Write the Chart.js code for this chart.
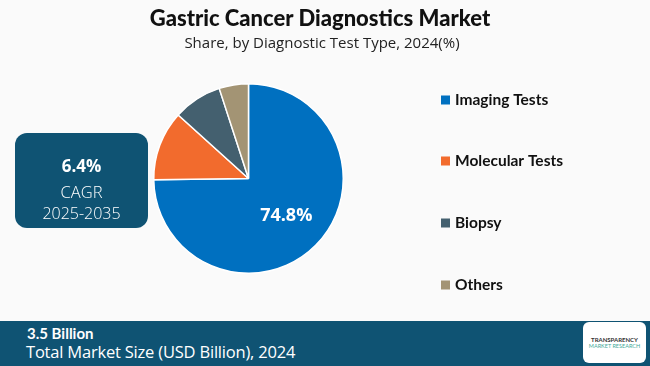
<!DOCTYPE html>
<html>
<head>
<meta charset="utf-8">
<script src="https://cdn.jsdelivr.net/npm/chart.js@4/dist/chart.umd.min.js"></script>
<style>
  html,body{margin:0;padding:0;background:#fafafa;}
  #wrap{position:relative;width:650px;height:366px;overflow:hidden;background:#fafafa;font-family:Lato, "Open Sans", sans-serif;}
  canvas{position:absolute;left:0;top:0;}
  .title{position:absolute;left:0;width:640px;text-align:center;top:4px;font:900 22px Lato, sans-serif;color:#111;}
  .sub{position:absolute;left:0;width:644px;text-align:center;top:32px;font:15px "Open Sans", sans-serif;color:#222;}
  .box{position:absolute;left:15px;top:133px;width:133px;height:95px;background:#0f5373;border-radius:12px;color:#fff;text-align:center;}
  .box .v{position:absolute;left:0;width:100%;top:21px;font:bold 17px "Open Sans", sans-serif;}
  .box .c{position:absolute;left:0;width:100%;top:47px;font:300 16.5px "Open Sans", sans-serif;}
  .box .y{position:absolute;left:0;width:100%;top:69px;font:300 16px "Open Sans", sans-serif;}
  .foot{position:absolute;left:0;top:321px;width:650px;height:45px;background:#0f5373;color:#fff;}
  .foot .a{position:absolute;left:27px;top:3px;font:bold 15px Lato, sans-serif;}
  .foot .b{position:absolute;left:26px;top:19px;font:16.5px "Open Sans", sans-serif;letter-spacing:-0.2px;}
  .logo{position:absolute;left:583px;top:322px;width:63px;height:41px;background:#fff;border-radius:6px;}
  .logo .t1{position:absolute;left:0;width:100%;top:14px;text-align:center;font:bold 6px Lato, sans-serif;color:#333;}
  .logo .t2{position:absolute;left:0;width:100%;top:21px;text-align:center;font:5.5px Lato, sans-serif;color:#4a9;}
</style>
</head>
<body>
<div id="wrap">
  <canvas id="c" width="650" height="366"></canvas>
  <div class="title">Gastric Cancer Diagnostics Market</div>
  <div class="sub">Share, by Diagnostic Test Type, 2024(%)</div>
  <div class="box"><div class="v">6.4%</div><div class="c">CAGR</div><div class="y">2025-2035</div></div>
  <div class="foot"><div class="a">3.5 Billion</div><div class="b">Total Market Size (USD Billion), 2024</div></div>
  <div class="logo"><div class="t1">TRANSPARENCY</div><div class="t2">MARKET RESEARCH</div></div>
</div>
<script>
const categories = ["Imaging Tests", "Molecular Tests", "Biopsy", "Others"];
const shares = [74.8, 11.9, 8.3, 5.0];
const colors = ["#0070c0", "#f26b2d", "#44606f", "#a39474"];
const labelText = ["74.8%", "", "", ""];

const sliceLabels = {
  id: "sliceLabels",
  afterDatasetsDraw(chart) {
    const ctx = chart.ctx;
    const meta = chart.getDatasetMeta(0);
    meta.data.forEach((arc, i) => {
      if (!labelText[i]) return;
      const p = arc.getProps(["x","y","startAngle","endAngle","outerRadius"], true);
      const mid = (p.startAngle + p.endAngle) / 2;
      const r = p.outerRadius * 0.56;
      ctx.save();
      ctx.fillStyle = "#fff";
      ctx.font = "bold 18px 'Open Sans', sans-serif";
      ctx.textAlign = "center";
      ctx.textBaseline = "middle";
      ctx.fillText(labelText[i], p.x + Math.cos(mid) * r, p.y + Math.sin(mid) * r);
      ctx.restore();
    });
  }
};

const sideLegend = {
  id: "sideLegend",
  afterDraw(chart) {
    const ctx = chart.ctx;
    const ys = [100, 161, 223, 285];
    ctx.save();
    categories.forEach((name, i) => {
      ctx.fillStyle = colors[i];
      ctx.fillRect(441, ys[i] - 4.5, 9, 9);
      ctx.fillStyle = "#111";
      ctx.font = "bold 15.5px Lato, sans-serif";
      ctx.textAlign = "left";
      ctx.textBaseline = "middle";
      ctx.fillText(name, 455, ys[i]);
    });
    ctx.restore();
  }
};

new Chart(document.getElementById("c"), {
  type: "pie",
  data: {
    labels: categories,
    datasets: [{
      data: shares,
      backgroundColor: colors,
      borderColor: "#ffffff",
      borderWidth: 1.5
    }]
  },
  options: {
    responsive: false,
    animation: false,
    layout: { padding: { left: 153, right: 306, top: 83, bottom: 92 } },
    plugins: {
      legend: { display: false },
      tooltip: { enabled: false },
      title: { display: false }
    }
  },
  plugins: [sliceLabels, sideLegend]
});
</script>
</body>
</html>
